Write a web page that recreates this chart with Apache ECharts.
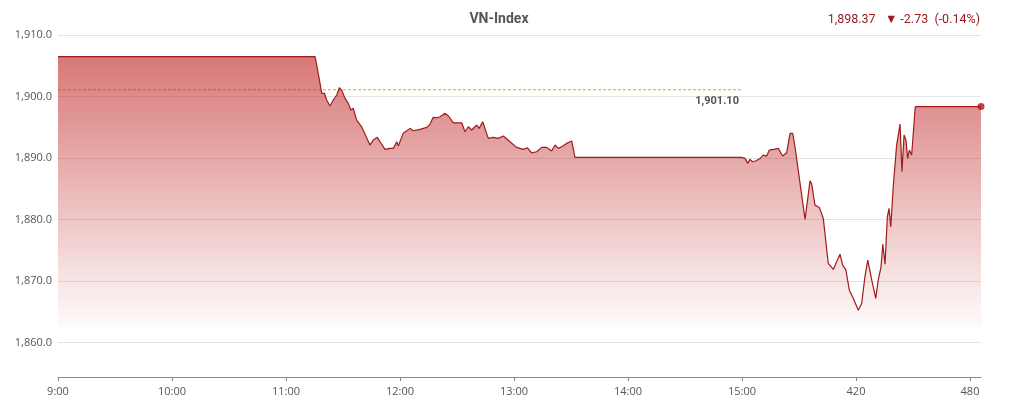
<html>
<head>
    <meta charset="utf-8">
    <title>VN-Index</title>
</head>
<body style="margin: 0">
<div id="container" style="width: 1014px; height: 410px"></div>
<script src="https://cdn.jsdelivr.net/npm/echarts@6/dist/echarts.min.js"></script>
<script>
    // 分钟数（从 9:00 起算）
    var minutes = [
        0, 135.3, 136.5, 137.9, 138.8, 140.2, 141.4, 143.2, 144.9, 146.7, 148.1, 149.3, 151.1, 152.8, 154.1, 155.4,
        157.2, 159.8, 164.2, 165.9, 168.1, 169.5, 172.1, 174.7, 176.5, 178.3, 179.1, 181.7, 185.3, 187.0, 190.5,
        194.1, 195.8, 197.5, 199.3, 201.1, 203.7, 205.4, 208.1, 212.5, 214.2, 216.0, 217.7, 220.4, 221.7, 223.5,
        226.5, 229.1, 231.7, 234.4, 237.9, 241.4, 244.9, 247.0, 249.3, 251.9, 254.6, 257.2, 259.8, 261.6, 263.3,
        265.1, 267.7, 270.4, 271.2, 272.1, 359.8, 361.6, 363.0, 364.2, 365.6, 367.4, 369.5, 371.2, 373.0, 374.4,
        377.4, 379.1, 381.4, 383.5, 385.3, 386.7, 387.9, 389.6, 393.2, 395.8, 396.7, 398.4, 400.7, 402.8, 405.4,
        408.1, 409.8, 411.6, 413.0, 414.7, 416.5, 418.6, 421.2, 423.0, 424.7, 426.2, 428.3, 430.4, 431.7, 433.2,
        434.1, 435.3, 436.5, 437.4, 438.3, 439.6, 441.4, 443.2, 444.2, 445.3, 446.3, 447.2, 448.1, 449.3, 450.2,
        451.2, 485.8
    ];
    // 指数值
    var indexValues = [
        1906.5, 1906.5, 1904.58, 1902.14, 1900.52, 1900.52, 1899.43, 1898.45, 1899.43, 1900.24, 1901.43, 1901.05, 1899.70, 1898.89, 1897.80, 1898.08,
        1896.17, 1895.08, 1892.10, 1892.92, 1893.36, 1892.64, 1891.41, 1891.57, 1891.57, 1892.64, 1891.94, 1894.01, 1894.82, 1894.43, 1894.66,
        1894.98, 1895.52, 1896.61, 1896.55, 1896.71, 1897.26, 1896.87, 1895.73, 1895.73, 1894.27, 1895.08, 1894.55, 1895.36, 1894.82, 1895.90,
        1893.20, 1893.36, 1893.20, 1893.57, 1892.64, 1891.73, 1891.41, 1891.67, 1890.85, 1891.02, 1891.73, 1891.73, 1891.13, 1892.11, 1891.57,
        1891.83, 1892.38, 1892.76, 1892.64, 1890.10, 1890.10, 1889.94, 1889.13, 1889.78, 1889.39, 1889.55, 1889.94, 1890.48, 1890.32, 1891.29,
        1891.45, 1891.57, 1890.32, 1890.85, 1894.01, 1894.01, 1891.83, 1888.04, 1880.02, 1886.30, 1885.76, 1882.34, 1881.97, 1880.18, 1872.86,
        1871.88, 1873.12, 1874.37, 1872.58, 1871.77, 1868.52, 1867.17, 1865.26, 1866.35, 1870.68, 1873.40, 1870.14, 1867.17, 1870.14, 1872.31,
        1876.00, 1872.75, 1880.44, 1881.81, 1878.81, 1885.32, 1892.11, 1895.52, 1887.76, 1893.73, 1892.92, 1889.94, 1891.29, 1890.48, 1890.48,
        1898.34, 1898.37
    ];
    // 参考价（昨收）
    var refPrice = 1901.10;
    var refMinutes = [0, 360];
    var xTicks = [0, 60, 120, 180, 240, 300, 360, 420, 480];
    var headerText = '1,898.37   \u25BC -2.73  (-0.14%)';

    var lineData = [];
    for (var i = 0; i < minutes.length; i++) {
        lineData.push([minutes[i], indexValues[i]]);
    }
    var lastPoint = lineData[lineData.length - 1];

    var fmt = function (v, d) {
        return v.toLocaleString('en-US', {minimumFractionDigits: d, maximumFractionDigits: d});
    };

    var myChart = echarts.init(document.getElementById('container'));

    var option = {
        animation: false,
        backgroundColor: '#fff',
        textStyle: {fontFamily: 'Roboto'},
        title: [
            {
                text: 'VN-Index',
                left: 494,
                top: 7,
                textAlign: 'center',
                textStyle: {fontSize: 14, fontWeight: 'bold', color: '#555', fontFamily: 'Roboto'}
            },
            {
                text: headerText,
                right: 29,
                top: 8,
                textStyle: {fontSize: 12.5, fontWeight: 'normal', color: '#9b1d20', fontFamily: 'Roboto'}
            }
        ],
        grid: {left: 58, right: 33, top: 35, bottom: 33},
        xAxis: {
            type: 'value',
            min: 0,
            max: 485.8,
            splitLine: {show: false},
            axisLine: {lineStyle: {color: '#888'}},
            axisTick: {length: 4, lineStyle: {color: '#888'}, customValues: xTicks},
            axisLabel: {
                customValues: xTicks,
                margin: 9,
                color: '#555',
                fontSize: 11,
                fontFamily: 'Open Sans',
                formatter: function (v) {
                    // 原图 420 之后直接显示分钟数
                    return v < 420 ? (9 + v / 60) + ':00' : String(v);
                }
            }
        },
        yAxis: {
            type: 'value',
            min: 1854.4,
            max: 1910,
            minInterval: 10,
            maxInterval: 10,
            axisLine: {show: false},
            axisTick: {show: false},
            splitLine: {lineStyle: {color: '#e3e3e3'}},
            axisLabel: {
                showMinLabel: false,
                margin: 6,
                color: '#555',
                fontSize: 11,
                fontFamily: 'Open Sans',
                formatter: function (v) {
                    return fmt(v, 1);
                }
            }
        },
        series: [
            {
                name: 'ref',
                type: 'line',
                z: 1,
                silent: true,
                symbol: 'none',
                lineStyle: {color: '#f0a010', type: [3, 2], width: 1.2},
                endLabel: {
                    show: true,
                    formatter: fmt(refPrice, 2),
                    color: '#555',
                    fontSize: 11,
                    fontWeight: 'bold',
                    align: 'right',
                    offset: [-11, 12]
                },
                data: [[refMinutes[0], refPrice], [refMinutes[1], refPrice]]
            },
            {
                name: 'VN-Index',
                type: 'line',
                z: 2,
                symbol: 'none',
                lineStyle: {color: '#a01c1c', width: 1.2},
                areaStyle: {
                    opacity: 1,
                    origin: 1862.5,
                    color: new echarts.graphic.LinearGradient(0, 0, 0, 1, [
                        {offset: 0, color: 'rgba(190,30,30,0.6)'},
                        {offset: 1, color: 'rgba(190,30,30,0.02)'}
                    ])
                },
                data: lineData
            },
            {
                name: 'last',
                type: 'scatter',
                z: 3,
                symbolSize: 7,
                itemStyle: {color: '#b01212'},
                data: [lastPoint]
            }
        ]
    };

    myChart.setOption(option);
</script>
</body>
</html>
